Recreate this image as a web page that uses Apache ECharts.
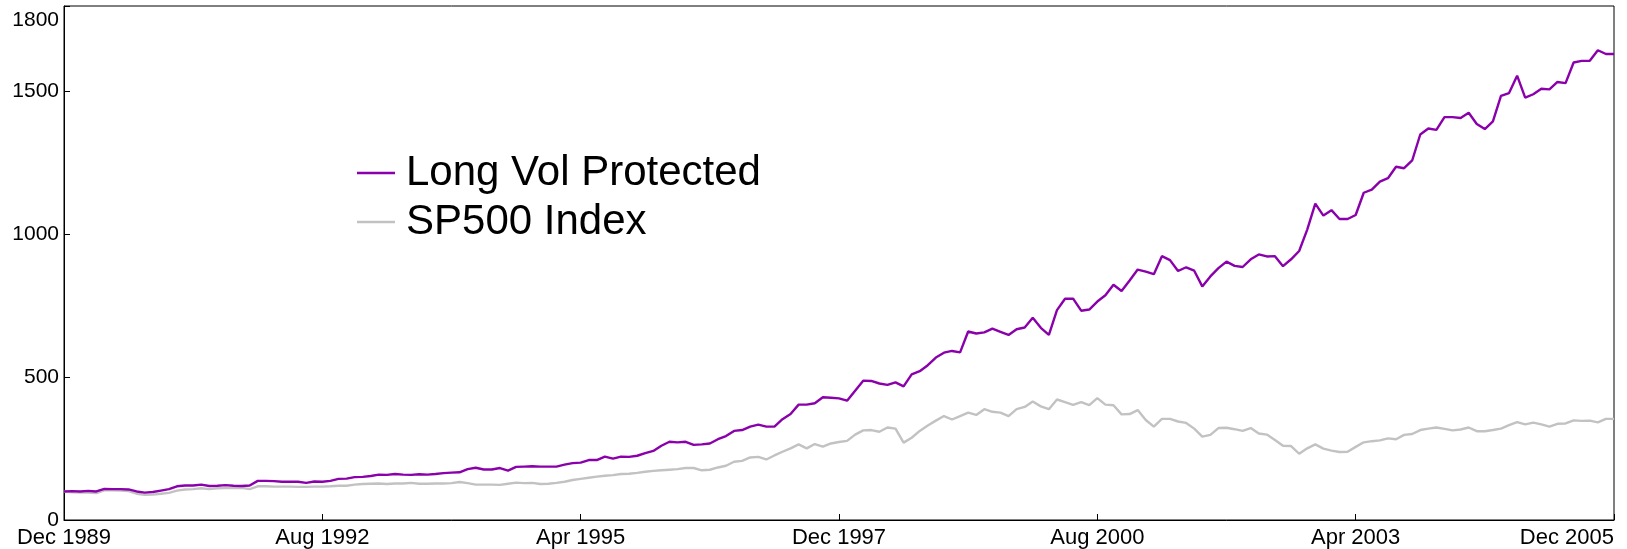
<!DOCTYPE html>
<html>
<head>
<meta charset="utf-8">
<script src="https://cdn.jsdelivr.net/npm/echarts@6/dist/echarts.min.js"></script>
<style>
  html, body { margin: 0; padding: 0; background: #fff; }
  #chart { width: 1627px; height: 549px; }
</style>
</head>
<body>
<div id="chart"></div>
<script>
// monthly, Dec 1989 .. Dec 2005
var startYear = 1989;
var startMonth = 11; // Dec
var monthNames = ['Jan','Feb','Mar','Apr','May','Jun','Jul','Aug','Sep','Oct','Nov','Dec'];

var longVol = [
  100,101,100,102,100,109,108,108,107,100, 96, 98,103,108,118,121,121,124,119,120,
  122,120,119,121,137,137,136,134,134,134,130,135,134,137,144,145,150,151,154,159,
  158,161,159,158,160,159,161,164,166,167,178,183,177,177,182,173,186,187,188,187,
  187,187,194,199,201,210,210,222,215,222,221,225,234,242,260,274,272,274,263,265,
  268,283,294,312,315,327,334,327,327,353,371,404,404,409,430,428,426,418,453,488,
  487,478,473,482,468,510,521,542,569,586,592,587,660,653,657,670,659,648,668,674,
  708,673,648,735,775,775,733,737,765,787,824,802,839,877,870,861,924,910,872,885,
  873,818,853,882,905,890,886,913,930,923,924,889,913,942,1017,1108,1066,1085,1054,1054,
  1068,1146,1157,1185,1197,1237,1232,1259,1350,1371,1366,1411,1411,1408,1426,1387,1369,1396,1485,1495,
  1556,1479,1491,1510,1508,1534,1530,1602,1608,1608,1645,1632,1632
];

var sp500 = [
  100, 97, 96, 96, 94,104,104,103,101, 92, 88, 89, 92, 95,103,107,108,111,108,111,
  112,112,113,108,118,118,117,117,117,116,116,117,117,118,120,120,124,126,127,128,
  126,128,128,130,127,127,128,128,129,133,129,124,124,124,123,127,131,129,130,126,
  127,130,134,140,144,148,152,155,157,161,162,165,169,172,174,176,178,182,182,174,
  176,184,190,204,207,219,221,212,226,239,251,265,251,266,257,268,273,277,299,314,
  315,309,324,320,271,288,312,331,348,364,352,364,376,368,388,379,376,364,388,396,
  415,398,388,422,413,403,413,402,427,404,402,370,371,385,350,327,354,354,345,340,
  320,292,298,322,323,318,312,322,303,299,280,260,259,232,251,265,250,243,238,239,
  256,272,276,279,286,283,298,301,315,320,324,319,314,317,324,311,311,315,320,332,
  343,335,341,335,327,337,338,349,347,348,342,354,354
];

var seriesNames = ['Long Vol Protected', 'SP500 Index'];
var yMax = 1800;

var months = [];
for (var i = 0; i < longVol.length; i++) {
  var m = (startMonth + i) % 12;
  var y = startYear + Math.floor((startMonth + i) / 12);
  months.push(monthNames[m] + ' ' + y);
}

var fontFam = '"Liberation Sans", Arial, sans-serif';
var chart = echarts.init(document.getElementById('chart'), null, { renderer: 'canvas' });

chart.setOption({
  animation: false,
  backgroundColor: '#fff',
  textStyle: { fontFamily: fontFam },
  grid: {
    left: 64, right: 13, top: 6, bottom: 29,
    show: true, borderColor: '#000', borderWidth: 1, backgroundColor: 'transparent'
  },
  legend: {
    data: seriesNames,
    orient: 'vertical',
    left: 352,
    top: 146,
    icon: 'rect',
    itemWidth: 38,
    itemHeight: 2.4,
    itemGap: 5,
    textStyle: { fontSize: 42, color: '#000', fontFamily: fontFam, lineHeight: 44, padding: [0, 0, 0, 6] }
  },
  xAxis: {
    type: 'category',
    data: months,
    boundaryGap: false,
    axisLine: { lineStyle: { color: '#000', width: 1 } },
    axisTick: { interval: 31, inside: true, length: 6, lineStyle: { color: '#000' } },
    axisLabel: {
      interval: 31, margin: 7, fontSize: 22, color: '#000', fontFamily: fontFam,
      alignMaxLabel: 'right'
    },
    splitLine: { show: false }
  },
  yAxis: {
    type: 'value',
    min: 0, max: yMax, interval: 500,
    axisLine: { show: true, lineStyle: { color: '#000', width: 1 } },
    axisTick: { show: true, inside: true, length: 6, lineStyle: { color: '#000' } },
    axisLabel: {
      margin: 5, fontSize: 21, color: '#000', fontFamily: fontFam,
      showMaxLabel: true, verticalAlignMaxLabel: 'top',
      formatter: function (v) { return v === yMax ? '{t|' + v + '}' : String(v); },
      rich: { t: { fontSize: 21, color: '#000', fontFamily: fontFam, padding: [4, 0, 0, 0] } }
    },
    splitLine: { show: false }
  },
  series: [
    {
      name: seriesNames[1], type: 'line', data: sp500,
      symbol: 'none', lineStyle: { color: '#c2c2c2', width: 2.4 },
      itemStyle: { color: '#c2c2c2' }
    },
    {
      name: seriesNames[0], type: 'line', data: longVol,
      symbol: 'none', lineStyle: { color: '#8a00aa', width: 2.4 },
      itemStyle: { color: '#8a00aa' }
    }
  ]
});
</script>
</body>
</html>
